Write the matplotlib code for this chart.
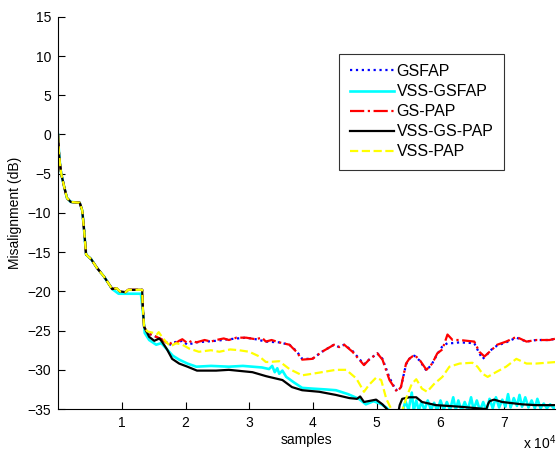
import numpy as np
import matplotlib
matplotlib.use("Agg")
import matplotlib.pyplot as plt

plt.rcParams['font.family'] = ['Liberation Sans', 'DejaVu Sans']
plt.rcParams['mathtext.default'] = 'regular'

# x values are in units of 1e4 samples, y in dB
# part shared by all curves
early_x = [0, 0.005, 0.015, 0.03, 0.05, 0.1, 0.14, 0.2, 0.34, 0.38, 0.41, 0.44, 0.52, 0.61, 0.72, 0.85]
early_y = [0, -1, -2.3, -3.7, -5, -6.8, -8.1, -8.6, -8.7, -9.7, -12.3, -15.3, -15.9, -17, -18.1, -19.7]

# step down around 1.3e4 (all but VSS-GSFAP)
step_x = [0.92, 0.97, 1.06, 1.1, 1.32, 1.33, 1.35]
step_y = [-19.6, -20.0, -20.1, -19.8, -19.8, -22, -24.5]

gspap_x = [1.4, 1.6, 1.7, 1.74, 1.8, 1.85, 1.9, 1.95, 2.03, 2.1, 2.17, 2.3, 2.4, 2.48, 2.6, 2.68, 2.8,
           2.95, 3.1, 3.2, 3.26, 3.35, 3.47, 3.63,
           3.74, 3.83, 3.99, 4.14, 4.33, 4.41, 4.49, 4.62, 4.8, 4.88, 5.01, 5.09, 5.2, 5.32, 5.38, 5.46,
           5.51, 5.59, 5.67, 5.78, 5.87, 5.95, 6.03, 6.11, 6.19, 6.3, 6.53, 6.61, 6.69, 6.77, 6.89,
           7.03, 7.19, 7.35, 7.5, 7.71, 7.82]
gspap_y = [-25.3, -26.0, -26.5, -26.8, -26.4, -26.6, -26.3, -26.1, -26.6, -26.3, -26.5, -26.2, -26.4,
           -26.2, -26.0, -26.2, -25.9, -25.9, -26.1, -25.9,
           -26.4, -26.2, -26.5, -26.8, -27.7, -28.7, -28.6, -27.7, -26.8, -27.1, -26.8, -27.7, -29.4, -28.7,
           -27.9, -28.7, -31.3, -32.8, -32.2, -29.2, -28.6, -28.1, -28.7, -30.0, -29.2, -27.9, -27.4,
           -25.5, -26.2, -26.2, -26.4, -27.7, -28.3, -27.7, -26.8, -26.4, -25.8, -26.4, -26.2, -26.2, -26.0]

gsfap_x = [1.4, 1.6, 1.7, 1.74, 1.8, 1.9, 1.95, 2.03, 2.17, 2.48, 2.68, 2.95, 3.1, 3.26, 3.47, 3.63,
           3.74, 3.83, 3.99, 4.14, 4.33, 4.41, 4.49, 4.62, 4.8, 4.88, 5.01, 5.09, 5.2, 5.3, 5.38, 5.46,
           5.51, 5.59, 5.67, 5.78, 5.87, 5.95, 6.03, 6.11, 6.19, 6.3, 6.53, 6.61, 6.66, 6.72, 6.77,
           6.89, 7.03, 7.19, 7.35, 7.5, 7.71, 7.82]
gsfap_y = [-25.3, -26.0, -26.5, -26.9, -26.5, -26.4, -26.3, -26.8, -26.5, -26.3, -26.1, -25.9, -26.1,
           -26.4, -26.5, -26.8, -27.6, -28.6, -28.6, -27.7, -26.8, -27.1, -26.8, -27.6, -29.3, -28.7,
           -27.9, -28.6, -31.0, -32.6, -32.2, -29.3, -28.6, -28.2, -28.8, -30.1, -29.2, -28.0, -27.0,
           -26.6, -26.6, -26.5, -26.6, -27.9, -28.6, -28.2, -27.6, -26.9, -26.5, -25.9, -26.4, -26.2,
           -26.2, -26.0]

vssgspap_x = [1.4, 1.43, 1.51, 1.59, 1.63, 1.71, 1.79, 1.9, 2.03, 2.18, 2.48, 2.68, 3.05, 3.26, 3.31,
              3.52, 3.67, 3.83, 4.1, 4.36, 4.57, 4.69, 4.74, 4.8, 4.99, 5.09, 5.16, 5.2, 5.33, 5.36, 5.4,
              5.51, 5.62, 5.71, 5.93, 6.3, 6.72, 6.75, 6.77, 6.84, 6.97, 7.28, 7.5, 7.82]
vssgspap_y = [-25.3, -25.8, -26.3, -26.0, -26.4, -27.4, -28.6, -29.2, -29.6, -30.1, -30.1, -30.0, -30.3,
              -30.8, -30.9, -31.3, -32.2, -32.6, -32.8, -33.2, -33.6, -33.7, -33.4, -34.1, -33.8, -34.4,
              -35.0, -35.8, -35.8, -34.5, -33.7, -33.5, -33.5, -34.1, -34.5, -34.7, -35.0, -34.3, -34.0,
              -33.8, -34.1, -34.4, -34.5, -34.5]

vsspap_x = [1.4, 1.5, 1.55, 1.58, 1.63, 1.7, 1.77, 1.85, 1.95, 2.06, 2.21, 2.4, 2.53, 2.7, 2.84, 3.0,
            3.16, 3.26, 3.31, 3.47, 3.63, 3.83, 3.99, 4.14, 4.36, 4.52, 4.68, 4.8, 4.88, 4.99, 5.07, 5.15,
            5.24, 5.32, 5.4, 5.48, 5.55, 5.62, 5.71, 5.79, 5.9, 6.03, 6.14, 6.3, 6.5, 6.58, 6.66, 6.74,
            6.87, 7.03, 7.19, 7.35, 7.5, 7.82]
vsspap_y = [-25.1, -25.3, -25.5, -25.2, -25.8, -26.5, -27.0, -26.6, -26.8, -27.3, -27.7, -27.5, -27.7,
            -27.4, -27.5, -27.7, -28.3, -29.0, -29.0, -28.9, -29.9, -30.7, -30.5, -30.3, -30.0, -30.0,
            -31.1, -32.8, -31.9, -31.0, -31.3, -33.7, -35.2, -36.0, -35.2, -33.2, -31.8, -31.2, -32.4,
            -32.8, -31.8, -30.9, -29.6, -29.2, -29.1, -29.6, -30.5, -30.9, -30.3, -29.6, -28.6, -29.2,
            -29.2, -29.0]

vssgsfap_x = [0.9, 0.95, 1.3, 1.33, 1.36, 1.43, 1.54, 1.62, 1.7, 1.8, 1.9, 2.03, 2.17, 2.4, 2.68, 2.9,
              3.05, 3.2, 3.31, 3.36, 3.4, 3.44, 3.47, 3.52, 3.58, 3.7, 3.83, 4.0, 4.2, 4.36, 4.55, 4.72,
              4.83, 4.95, 5.05, 5.15, 5.2, 5.3,
              5.40, 5.45, 5.50, 5.55, 5.58, 5.62, 5.66, 5.70, 5.75, 5.80, 5.85, 5.90, 5.95, 6.00, 6.05,
              6.10, 6.15, 6.20, 6.24, 6.28, 6.33, 6.38, 6.43, 6.48, 6.52, 6.57, 6.62, 6.67, 6.72, 6.77,
              6.82, 6.87, 6.92, 6.97, 7.02, 7.06, 7.10, 7.15, 7.20, 7.24, 7.28, 7.33, 7.38, 7.43, 7.48,
              7.52, 7.57, 7.62, 7.67, 7.72, 7.78, 7.82]
vssgsfap_y = [-20.0, -20.3, -20.3, -22.5, -25.3, -26.2, -26.8, -26.6, -27.3, -28.2, -28.7, -29.2, -29.6,
              -29.5, -29.6, -29.5, -29.6, -29.7, -29.9, -29.5, -30.3, -29.8, -30.5, -30.1, -30.9, -31.6,
              -32.3, -32.4, -32.5, -32.6, -33.1, -33.7, -34.4, -34.0, -34.3, -34.8, -35.2, -35.6,
              -35.5, -34.0, -35.1, -32.9, -35.2, -33.9, -35.2, -34.1, -35.1, -33.9, -35.1, -34.2, -35.2,
              -33.9, -35.1, -34.1, -35.1, -33.5, -35.1, -33.9, -35.2, -34.1, -35.1, -33.5, -35.1, -33.9,
              -35.2, -34.1, -35.2, -33.7, -34.9, -33.5, -34.8, -33.8, -34.7, -33.1, -34.8, -33.6, -34.6,
              -33.2, -34.7, -33.5, -34.8, -33.9, -34.9, -33.7, -34.9, -34.3, -34.9, -34.4, -34.9, -34.7]

labels = ['GSFAP', 'VSS-GSFAP', 'GS-PAP', 'VSS-GS-PAP', 'VSS-PAP']
xtick_vals = [1, 2, 3, 4, 5, 6, 7]
ytick_vals = [-35, -30, -25, -20, -15, -10, -5, 0, 5, 10, 15]


def full(x_tail, y_tail, with_step=True):
    xs = early_x + (step_x if with_step else []) + x_tail
    ys = early_y + (step_y if with_step else []) + y_tail
    return np.array(xs) * 1e4, np.array(ys)


fig = plt.figure(figsize=(5.58, 4.54), dpi=100)
ax = fig.add_axes([0.104, 0.099, 0.891, 0.864])

lw = 1.6
x, y = full(gsfap_x, gsfap_y)
ax.plot(x, y, color='#0000ff', linestyle=':', lw=lw, label=labels[0])
x, y = full(vssgsfap_x, vssgsfap_y, with_step=False)
ax.plot(x, y, color='#00ffff', linestyle='-', lw=1.9, label=labels[1])
x, y = full(gspap_x, gspap_y)
ax.plot(x, y, color='#ff0000', linestyle='-.', lw=lw, label=labels[2])
x, y = full(vssgspap_x, vssgspap_y)
ax.plot(x, y, color='black', linestyle='-', lw=lw, label=labels[3])
x, y = full(vsspap_x, vsspap_y)
ax.plot(x, y, color='#ffff00', linestyle='--', lw=lw, label=labels[4])

ax.set_xlim(0, 78000)
ax.set_ylim(-35, 15)
ax.set_xticks([v * 1e4 for v in xtick_vals])
ax.set_xticklabels([str(v) for v in xtick_vals])
ax.set_yticks(ytick_vals)
ax.tick_params(direction='in', length=5, width=0.8, labelsize=10, pad=5)
ax.spines['top'].set_visible(False)
ax.spines['right'].set_visible(False)
ax.set_xlabel('samples', fontsize=10, labelpad=2)
ax.set_ylabel('Misalignment (dB)', fontsize=10, labelpad=4)

fig.text(0.937, 0.004, r'x 10$^4$', fontsize=10, ha='left', va='bottom')

leg = ax.legend(loc='upper right', bbox_to_anchor=(0.897, 0.906), fontsize=11.5, frameon=True,
                fancybox=False, edgecolor='black', handlelength=2.8, handletextpad=0.15,
                labelspacing=0.32, borderpad=0.65, borderaxespad=0)
leg.get_frame().set_linewidth(0.8)

fig.savefig('out.png', dpi=100)
